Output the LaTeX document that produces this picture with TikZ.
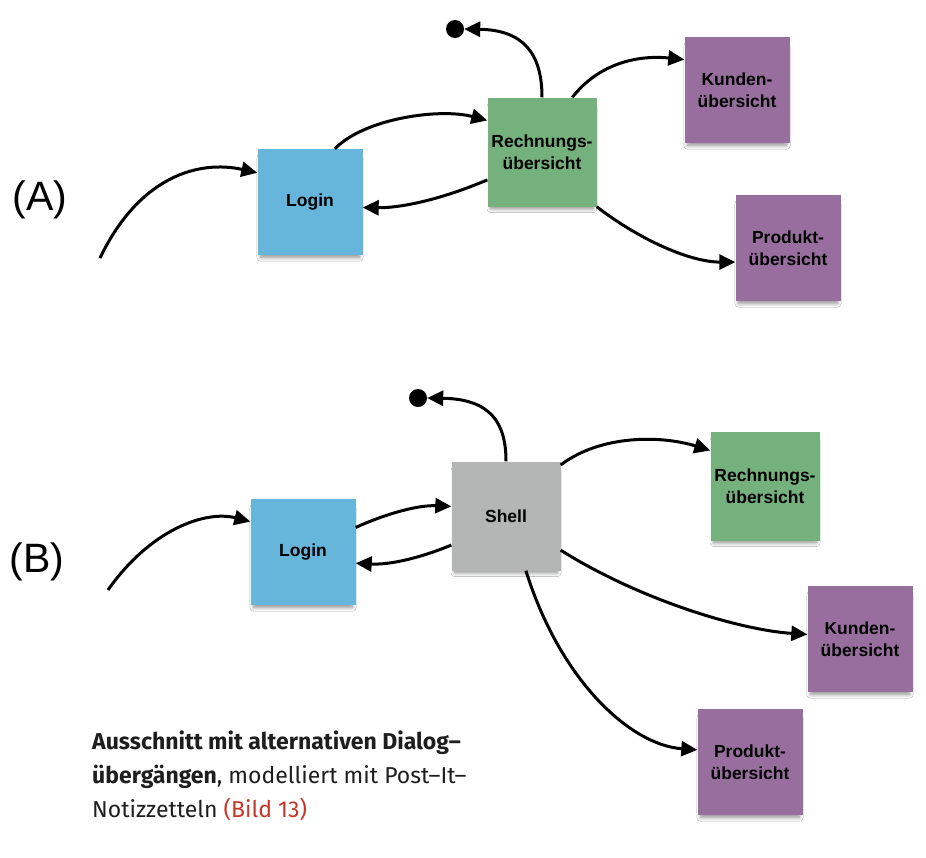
\documentclass[tikz,border=0pt]{standalone}
\usepackage{fontspec}
\setmainfont{Liberation Sans}
\newfontfamily\capfont{Fira Sans}
\usetikzlibrary{arrows.meta, shadows.blur}
\definecolor{loginblue}{RGB}{102,181,218}
\definecolor{notegreen}{RGB}{117,177,124}
\definecolor{notepurple}{RGB}{152,110,158}
\definecolor{notegray}{RGB}{180,181,181}
\definecolor{capred}{RGB}{200,52,38}
\definecolor{capink}{RGB}{30,30,30}

\begin{document}
\begin{tikzpicture}[x=1pt, y=-1pt,
  note/.style={minimum width=105pt, minimum height=106pt, inner sep=2pt, align=center,
    font=\fontsize{17.5}{22}\selectfont\bfseries,
    blur shadow={shadow xshift=0pt, shadow yshift=-6pt, shadow scale=0.94, shadow opacity=45, shadow blur radius=4pt, shadow blur steps=8}},
  big/.style={minimum width=109pt, minimum height=109pt},
  flow/.style={line width=3pt, -{Triangle[length=16pt,width=15pt]}},
  enddot/.style={circle, fill=black, inner sep=0pt, minimum size=18pt},
  tag/.style={font=\fontsize{41}{41}\selectfont}]
  \useasboundingbox[fill=white] (0,0) rectangle (926,857);

  \node[tag] (labA) at (40,200) {(A)};
  \node[tag] (labB) at (37,562) {(B)};

  \node[note, fill=loginblue] (loginA) at (310,202) {Login};
  \node[note, big, fill=notegreen] (rechA) at (542,152) {Rechnungs-\\übersicht};
  \node[note, fill=notepurple] (kundA) at (737,90) {Kunden-\\übersicht};
  \node[note, fill=notepurple] (prodA) at (788,248) {Produkt-\\übersicht};
  \node[enddot] (endA) at (455,29) {};
  \coordinate (inA) at (100,258);

  \draw[flow] (inA) .. controls (140,175) and (200,160) .. (loginA.151);
  \draw[flow] (loginA.65) .. controls (365,118) and (440,108) .. (rechA.150);
  \draw[flow] (rechA.207) .. controls (440,200) and (400,208) .. (loginA.-6);
  \draw[flow] (rechA.north) .. controls (542,52) and (522,30) .. (endA.east);
  \draw[flow] (rechA.61) .. controls (600,62) and (640,55) .. (kundA.150);
  \draw[flow] (rechA.south east) .. controls (640,240) and (690,262) .. (prodA.195);

  \node[note, fill=loginblue] (loginB) at (303,552) {Login};
  \node[note, big, fill=notegray] (shell) at (506,516) {Shell};
  \node[note, big, fill=notegreen] (rechB) at (765,486) {Rechnungs-\\übersicht};
  \node[note, fill=notepurple] (kundB) at (860,639) {Kunden-\\übersicht};
  \node[note, fill=notepurple] (prodB) at (750,762) {Produkt-\\übersicht};
  \node[enddot] (endB) at (418,398) {};
  \coordinate (inB) at (108,590);

  \draw[flow] (inB) .. controls (150,530) and (205,510) .. (loginB.150);
  \draw[flow] (loginB.25) .. controls (390,512) and (420,505) .. (shell.170);
  \draw[flow] (shell.208) .. controls (420,558) and (390,565) .. (loginB.-12);
  \draw[flow] (shell.north) .. controls (506,422) and (490,399) .. (endB.east);
  \draw[flow] (shell.43) .. controls (600,435) and (660,435) .. (rechB.147);
  \draw[flow] (shell.-32) .. controls (640,600) and (740,630) .. (kundB.175);
  \draw[flow] (shell.-70) .. controls (560,680) and (630,745) .. (prodB.167);

  \node[anchor=north west, align=left, inner sep=0pt, text=capink,
    font=\capfont\fontsize{23}{34}\selectfont] (caption) at (92,731)
    {\textbf{Ausschnitt mit alternativen Dialog–}\\\textbf{übergängen}, modelliert mit Post–It–\\Notizzetteln \textcolor{capred}{(Bild 13)}};
\end{tikzpicture}
\end{document}
